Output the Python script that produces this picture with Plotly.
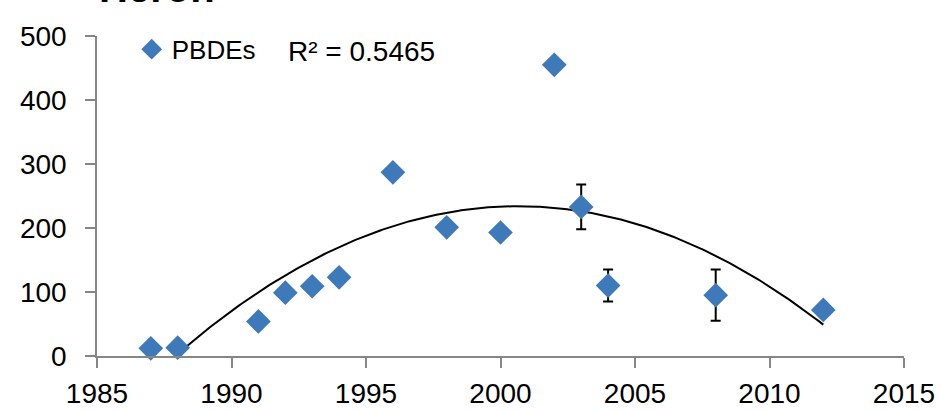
import numpy as np
import plotly.graph_objects as go

years = [1987, 1988, 1991, 1992, 1993, 1994, 1996, 1998, 2000, 2002, 2003, 2004, 2008, 2012]
pbdes = [12, 13, 54, 99, 109, 123, 287, 201, 193, 455, 233, 110, 95, 72]
err = [0, 0, 0, 0, 0, 0, 0, 0, 0, 0, 35, 25, 40, 0]
x_ticks = [1985, 1990, 1995, 2000, 2005, 2010, 2015]
y_ticks = [0, 100, 200, 300, 400, 500]

coef = np.polyfit(years, pbdes, 2)
tx = np.linspace(min(years), max(years), 300)
ty = np.polyval(coef, tx)

FONT = "Liberation Sans"
BLUE = "#3E79B9"
AX = "#868686"

fig = go.Figure()
fig.add_trace(go.Scatter(
    x=tx, y=ty, mode="lines", line=dict(color="black", width=2),
    showlegend=False, hoverinfo="skip"))
fig.add_trace(go.Scatter(
    x=years, y=pbdes, mode="markers", name="PBDEs",
    marker=dict(symbol="diamond", size=19, color=BLUE),
    error_y=dict(type="data", array=err, visible=True, color="black",
                 thickness=2, width=5),
    cliponaxis=False))

fig.update_layout(
    width=941, height=411,
    margin=dict(l=97, r=37, t=36, b=55),
    paper_bgcolor="white", plot_bgcolor="white",
    font=dict(family=FONT, size=28, color="black"),
    showlegend=True,
    legend=dict(x=0.043, y=1.032, xanchor="left", yanchor="top",
                font=dict(family=FONT, size=26), bgcolor="rgba(0,0,0,0)",
                itemwidth=30),
    xaxis=dict(range=[1985, 2015], tickvals=x_ticks, showgrid=False,
               zeroline=False, showline=True, linecolor=AX, linewidth=1.5,
               ticks="outside", ticklen=10, tickcolor=AX, tickwidth=1.5,
               ticklabelstandoff=2,
               automargin=False, tickfont=dict(family=FONT, size=28)),
    yaxis=dict(range=[0, 500], tickvals=y_ticks, showgrid=False,
               zeroline=False, showline=True, linecolor=AX, linewidth=1.5,
               ticks="outside", ticklen=10, tickcolor=AX, tickwidth=1.5,
               ticklabelstandoff=13,
               automargin=False, tickfont=dict(family=FONT, size=28)),
    annotations=[
        dict(text="<b>Heron</b>", xref="paper", yref="paper", x=0.0, y=1.074,
             xanchor="left", yanchor="bottom", showarrow=False,
             font=dict(family=FONT, size=40)),
        dict(text="R² = 0.5465", xref="paper", yref="paper", x=0.234, y=0.953,
             xanchor="left", yanchor="middle", showarrow=False,
             font=dict(family=FONT, size=28)),
    ],
)

fig.write_html("out.html", config={"displayModeBar": False},
               post_script="document.body.style.margin='0';document.body.style.overflow='hidden';")
